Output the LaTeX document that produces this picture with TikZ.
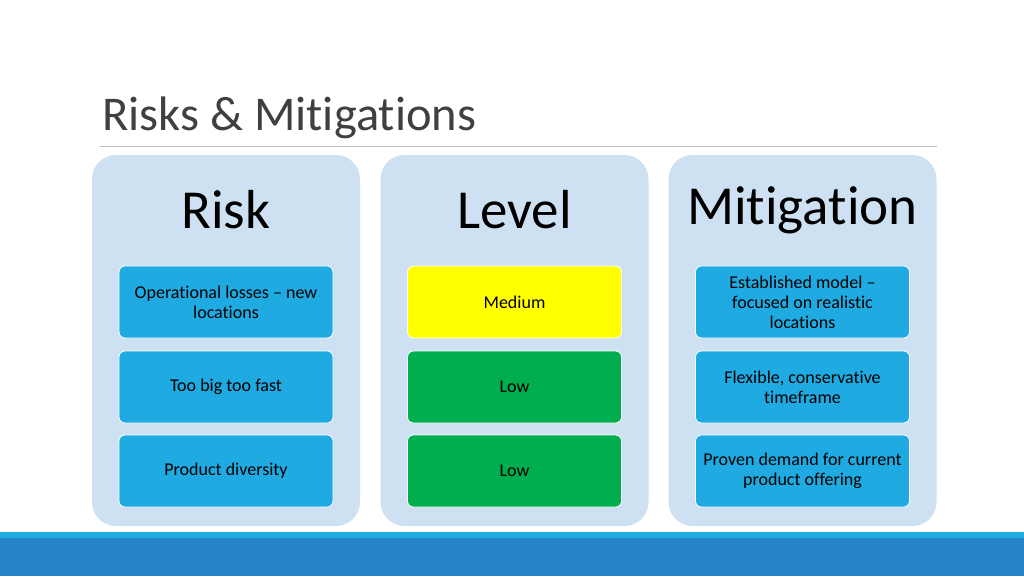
\documentclass[tikz,border=0pt]{standalone}
\usepackage{fontspec}
\setmainfont{Carlito}[Ligatures=NoCommon]
\definecolor{colfill}{HTML}{CDE1F2}
\definecolor{cellblue}{HTML}{1FABE2}
\definecolor{cellyellow}{HTML}{FFFF00}
\definecolor{cellgreen}{HTML}{00AD4F}
\definecolor{barblue}{HTML}{2683C6}
\definecolor{titlegray}{HTML}{404040}
\tikzset{
  column/.style={rounded corners=24pt,fill=colfill,minimum width=268pt,minimum height=371pt,inner sep=0pt},
  header/.style={font=\fontsize{55}{60}\selectfont,text=black},
  cell/.style={rounded corners=6pt,draw=white,line width=0.8pt,fill=cellblue,minimum width=214pt,minimum height=72pt,
    align=center,font=\fontsize{18}{20}\selectfont,inner sep=0pt}
}
\begin{document}
\begin{tikzpicture}[x=1pt,y=-1pt]
\useasboundingbox (0,0) rectangle (1024,576);
\fill[white] (0,0) rectangle (1024,576);
% title
\node (title)[anchor=base west,inner sep=0pt,text=titlegray,font=\fontsize{48.5}{54}\selectfont] at (102,130) {Risks \& Mitigations};
\draw[gray!50,line width=0.8pt] (100,146) -- (937,146);
% columns
\node (riskcol)[column] at (226,340.5) {};
\node (levelcol)[column] at (514.5,340.5) {};
\node (mitcol)[column] at (802.5,340.5) {};
\node (riskhead)[header] at (226,210) {Risk};
\node (levelhead)[header] at (514.5,210) {Level};
\node (mithead)[header] at (802.5,210) {Mitigation};
% risk cells
\node (r1)[cell] at (226,302) {Operational losses -- new\\locations};
\node (r2)[cell] at (226,387) {Too big too fast};
\node (r3)[cell] at (226,471) {Product diversity};
% level cells
\node (l1)[cell,fill=cellyellow] at (514.5,302) {Medium};
\node (l2)[cell,fill=cellgreen] at (514.5,387) {Low};
\node (l3)[cell,fill=cellgreen] at (514.5,471) {Low};
% mitigation cells
\node (m1)[cell] at (802.5,302) {Established model --\\focused on realistic\\locations};
\node (m2)[cell] at (802.5,387) {Flexible, conservative\\timeframe};
\node (m3)[cell] at (802.5,471) {Proven demand for current\\product offering};
% bottom bar
\fill[cellblue] (0,531.5) rectangle (1024,537.5);
\fill[barblue] (0,537.5) rectangle (1024,576);
\end{tikzpicture}
\end{document}
